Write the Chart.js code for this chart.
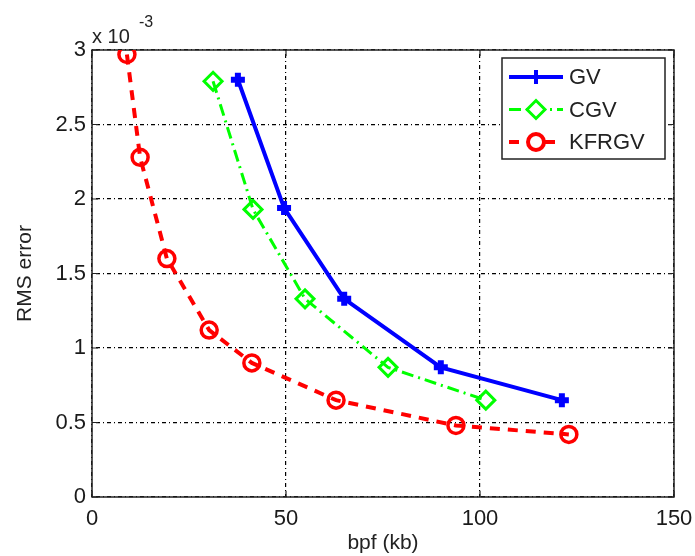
<!DOCTYPE html>
<html>
<head>
<meta charset="utf-8">
<script src="https://cdn.jsdelivr.net/npm/chart.js@4"></script>
<style>
  html, body { margin: 0; padding: 0; background: #fff; }
  #wrap { width: 695px; height: 556px; }
</style>
</head>
<body>
<div id="wrap"><canvas id="myChart"></canvas></div>
<script>
// values (y in units of 1e-3)
const gvX = [37.6, 49.5, 65.0, 89.9, 121.1];
const gvY = [2.80, 1.94, 1.33, 0.87, 0.65];
const cgvX = [31.2, 41.5, 54.9, 76.3, 101.5];
const cgvY = [2.79, 1.93, 1.33, 0.87, 0.65];
const kfX = [9.0, 12.4, 19.3, 30.2, 41.2, 62.9, 93.8, 122.9];
const kfY = [2.97, 2.28, 1.60, 1.12, 0.90, 0.65, 0.48, 0.42];
const xTicks = [0, 50, 100, 150];
const yTicks = [0, 0.5, 1, 1.5, 2, 2.5, 3];
const FONT = 'Liberation Sans, Arial, Helvetica, sans-serif';

function pts(xs, ys) {
    return xs.map((x, i) => ({ x: x, y: ys[i] }));
}

// box, inward ticks, legend and the exponent label (MATLAB look)
const matlabFrame = {
    id: 'matlabFrame',
    beforeDatasetsDraw(chart) {
        const a = chart.chartArea, c = chart.ctx;
        const xs = chart.scales.x, ys = chart.scales.y;
        c.save();
        c.strokeStyle = '#222';
        c.lineWidth = 1.5;
        c.setLineDash([]);
        c.strokeRect(a.left, a.top, a.right - a.left, a.bottom - a.top);
        c.lineWidth = 1.2;
        xTicks.forEach(v => {
            const p = xs.getPixelForValue(v);
            c.beginPath();
            c.moveTo(p, a.bottom); c.lineTo(p, a.bottom - 6);
            c.moveTo(p, a.top); c.lineTo(p, a.top + 6);
            c.stroke();
        });
        yTicks.forEach(v => {
            const p = ys.getPixelForValue(v);
            c.beginPath();
            c.moveTo(a.left, p); c.lineTo(a.left + 6, p);
            c.moveTo(a.right, p); c.lineTo(a.right - 6, p);
            c.stroke();
        });
        c.restore();
    },
    afterDraw(chart) {
        const a = chart.chartArea, c = chart.ctx;
        c.save();
        // exponent
        c.fillStyle = '#222';
        c.textBaseline = 'alphabetic';
        c.textAlign = 'left';
        c.font = '20px ' + FONT;
        c.fillText('x 10', a.left, a.top - 7);
        c.font = '16px ' + FONT;
        c.fillText('-3', a.left + 47, a.top - 23);

        // legend box
        const bx = 502, by = 58, bw = 163, bh = 101;
        c.fillStyle = '#fff';
        c.fillRect(bx, by, bw, bh);
        c.strokeStyle = '#222';
        c.lineWidth = 1.5;
        c.setLineDash([]);
        c.strokeRect(bx, by, bw, bh);
        chart.data.datasets.forEach((ds, i) => {
            const yy = by + 19 + i * 32.5;
            const x0 = bx + 7, x1 = bx + 61;
            c.strokeStyle = ds.borderColor;
            c.lineWidth = ds.borderWidth;
            c.setLineDash(ds.borderDash || []);
            c.beginPath();
            c.moveTo(x0, yy); c.lineTo(x1, yy);
            c.stroke();
            c.setLineDash([]);
            c.fillStyle = ds.pointStyle === 'cross' ? ds.borderColor : '#fff';
            Chart.helpers.drawPoint(c, {
                pointStyle: ds.pointStyle,
                radius: ds.pointRadius,
                borderWidth: ds.pointBorderWidth,
                rotation: 0
            }, (x0 + x1) / 2, yy);
            c.fillStyle = '#222';
            c.font = '22px ' + FONT;
            c.textAlign = 'left';
            c.textBaseline = 'middle';
            c.fillText(ds.label, x1 + 6, yy + 1);
        });
        c.restore();
    }
};

function renderChart() {
    const ctx = document.getElementById('myChart');
    new Chart(ctx, {
        type: 'line',
        data: {
            datasets: [{
                label: 'GV',
                data: pts(gvX, gvY),
                borderColor: '#0000ff',
                backgroundColor: '#0000ff',
                borderWidth: 4,
                pointStyle: 'cross',
                pointRadius: 7,
                pointBorderWidth: 6,
                pointBorderColor: '#0000ff',
                pointBackgroundColor: '#0000ff',
                order: 1
            },
            {
                label: 'CGV',
                data: pts(cgvX, cgvY),
                borderColor: '#00ff00',
                backgroundColor: '#00ff00',
                borderWidth: 3,
                borderDash: [12, 5, 2, 5],
                pointStyle: 'rectRot',
                pointRadius: 9,
                pointBorderWidth: 3,
                pointBorderColor: '#00ff00',
                pointBackgroundColor: 'rgba(0,0,0,0)',
                order: 2
            },
            {
                label: 'KFRGV',
                data: pts(kfX, kfY),
                borderColor: '#ff0000',
                backgroundColor: '#ff0000',
                borderWidth: 4,
                borderDash: [10, 8],
                pointStyle: 'circle',
                pointRadius: 8,
                pointBorderWidth: 3.5,
                pointBorderColor: '#ff0000',
                pointBackgroundColor: 'rgba(0,0,0,0)',
                order: 3
            }]
        },
        options: {
            responsive: true,
            maintainAspectRatio: false,
            animation: false,
            layout: {
                padding: { left: 0, right: 21, top: 50, bottom: 0 }
            },
            plugins: {
                legend: { display: false },
                tooltip: { enabled: false }
            },
            scales: {
                x: {
                    type: 'linear',
                    min: 0,
                    max: 150,
                    afterFit: function(scale) {
                        scale.height = 59;
                        scale.paddingLeft = 0;
                        scale.paddingRight = 0;
                    },
                    afterBuildTicks: function(scale) {
                        scale.ticks = xTicks.map(v => ({ value: v }));
                    },
                    grid: {
                        color: '#000',
                        lineWidth: 1.2,
                        drawTicks: false
                    },
                    border: { display: false, dash: [1, 3, 4, 3] },
                    ticks: {
                        padding: 9,
                        color: '#1a1a1a',
                        font: { family: FONT, size: 22 },
                        callback: v => String(v)
                    },
                    title: {
                        display: true,
                        text: 'bpf (kb)',
                        color: '#222',
                        padding: { top: 0, bottom: 0 },
                        font: { family: FONT, size: 21 }
                    }
                },
                y: {
                    type: 'linear',
                    min: 0,
                    max: 3,
                    afterFit: function(scale) {
                        scale.width = 92;
                        scale.paddingTop = 0;
                        scale.paddingBottom = 0;
                    },
                    afterBuildTicks: function(scale) {
                        scale.ticks = yTicks.map(v => ({ value: v }));
                    },
                    grid: {
                        color: '#000',
                        lineWidth: 1.2,
                        drawTicks: false
                    },
                    border: { display: false, dash: [1, 3, 4, 3] },
                    ticks: {
                        padding: 6,
                        color: '#1a1a1a',
                        font: { family: FONT, size: 22 },
                        callback: v => String(v)
                    },
                    title: {
                        display: true,
                        text: 'RMS error',
                        color: '#222',
                        padding: { top: 13, bottom: 0 },
                        font: { family: FONT, size: 21 }
                    }
                }
            }
        },
        plugins: [matlabFrame]
    });
}
renderChart();
</script>
</body>
</html>
